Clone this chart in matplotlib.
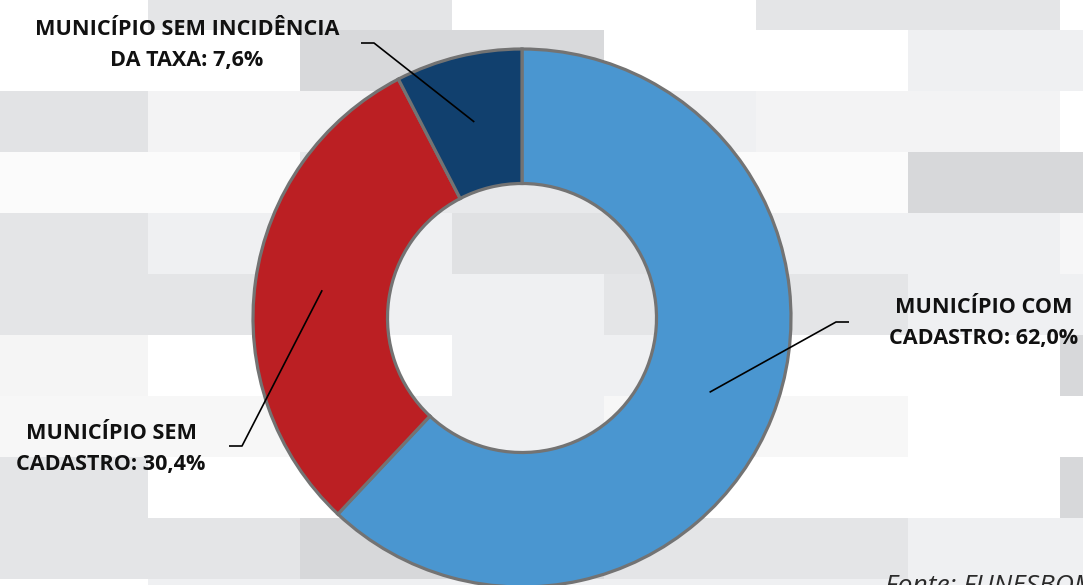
import numpy as np
import matplotlib
matplotlib.use("Agg")
import matplotlib.pyplot as plt
from matplotlib.patches import Rectangle

# ---- data ----
categories = ["MUNICÍPIO COM\nCADASTRO: 62,0%",
              "MUNICÍPIO SEM\nCADASTRO: 30,4%",
              "MUNICÍPIO SEM INCIDÊNCIA\nDA TAXA: 7,6%"]
values = [62.0, 30.4, 7.6]
colors = ["#4a96d0", "#bb1f23", "#11406e"]
source = "Fonte: FUNESBOM"

W, H = 1083, 585
fig = plt.figure(figsize=(W / 100, H / 100), dpi=100)
ax = fig.add_axes([0, 0, 1, 1])


def Y(y):
    """convert a top-down pixel position to axes data (y up)"""
    return H - y


# ---- decorative brick background ----
WH = "#ffffff"
bg_rows = [
    [WH, "#e4e5e7", WH, "#e4e5e7", WH],
    [WH, "#d8d9db", WH, "#eff0f2"],
    ["#e2e3e5", "#f3f3f4", "#eff0f2", "#f3f3f4", WH],
    ["#fbfbfb", "#e8e9eb", "#fbfbfb", "#d7d8da"],
    ["#e4e5e7", "#eff0f2", "#e0e1e3", "#eff0f2", "#f6f6f7"],
    ["#e4e5e7", "#eff0f2", "#e4e5e7", "#eff0f2"],
    ["#f5f5f5", WH, "#eff0f2", WH, "#d7d8da"],
    ["#f7f7f7", "#eff0f2", "#f7f7f7", WH],
    ["#e4e5e7", WH, WH, WH, "#d7d8da"],
    ["#e4e5e7", "#d7d8da", "#e4e5e7", "#eff0f2"],
    [WH, "#eff0f2", "#eff0f2", "#eff0f2", "#eff0f2"],
]
row_h = 61
for i, row in enumerate(bg_rows):
    top = 30 + row_h * (i - 1)
    x0 = -156 if i % 2 == 0 else -4
    for j, c in enumerate(row):
        ax.add_patch(Rectangle((x0 + 304 * j, Y(top + row_h)), 304, row_h,
                               facecolor=c, edgecolor="none", zorder=0))

# ---- donut ----
cx, cy, R = 522, 318, 269
wedges, _ = ax.pie(values, colors=colors, startangle=90, counterclock=False,
                   radius=R, center=(cx, Y(cy)), frame=True,
                   wedgeprops=dict(width=R * 0.5, edgecolor="#737373",
                                   linewidth=2.3))
for w in wedges:
    w.set_zorder(2)
ax.set_xlim(0, W)
ax.set_ylim(0, H)
ax.set_aspect("equal")
ax.axis("off")

# ---- labels with leader lines ----
font = dict(family="Open Sans", fontweight="bold", fontsize=15.6,
            color="#111111", linespacing=1.62)
# (elbow x, elbow y, tail end x, text x, text y)
layout = [
    (836, 322, 849, 984, 323),
    (242, 446, 229, 111, 449),
    (374, 43, 361, 187, 45),
]
cum = np.cumsum([0] + values)
r_mid = R * 0.75
for k, (ex, ey, tx, lx, ly) in enumerate(layout):
    mid = 90 - (cum[k] + cum[k + 1]) / 2 / 100 * 360
    sx = cx + r_mid * np.cos(np.radians(mid))
    sy = cy - r_mid * np.sin(np.radians(mid))
    ax.plot([sx, ex, tx], [Y(sy), Y(ey), Y(ey)], color="black", lw=1.2,
            zorder=3, solid_capstyle="butt")
    ax.text(lx, Y(ly), categories[k], ha="center", va="center", zorder=4,
            **font)

ax.text(885, Y(593), source, ha="left", va="baseline", fontsize=19,
        family="Open Sans", style="italic", color="#2a2a2a", zorder=4)

fig.savefig("out.png", dpi=100)
